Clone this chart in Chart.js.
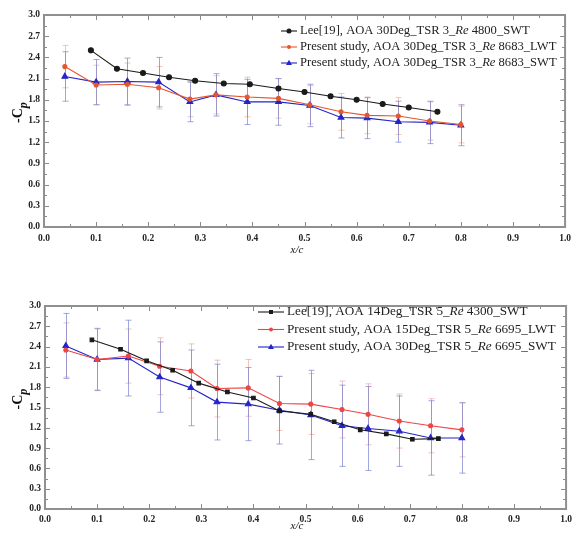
<!DOCTYPE html>
<html>
<head>
<meta charset="utf-8">
<script src="https://cdn.jsdelivr.net/npm/chart.js@4.4.1/dist/chart.umd.min.js"></script>
<style>
  body { margin: 0; background: #fff; }
  #wrap { position: relative; width: 577px; height: 539px; }
  #c1 { position: absolute; left: 0; top: 0; }
  #c2 { position: absolute; left: 0; top: 270px; }
</style>
</head>
<body>
<div id="wrap">
  <canvas id="c1" width="577" height="270"></canvas>
  <canvas id="c2" width="577" height="269"></canvas>
</div>
<script>
// ---- data, top panel (TSR 3) ----
const xLeeTop = [0.09, 0.14, 0.19, 0.24, 0.29, 0.345, 0.395, 0.45, 0.50, 0.55, 0.60, 0.65, 0.70, 0.755];
const yLeeTop = [2.50, 2.24, 2.18, 2.12, 2.07, 2.03, 2.02, 1.96, 1.91, 1.85, 1.80, 1.74, 1.69, 1.63];
const xPresent = [0.04, 0.10, 0.16, 0.22, 0.28, 0.33, 0.39, 0.45, 0.51, 0.57, 0.62, 0.68, 0.74, 0.80];
const yLwtTop = [2.27, 2.01, 2.02, 1.97, 1.81, 1.87, 1.84, 1.82, 1.73, 1.63, 1.58, 1.57, 1.50, 1.45];
const ySwtTop = [2.13, 2.05, 2.06, 2.05, 1.77, 1.87, 1.77, 1.77, 1.72, 1.55, 1.54, 1.49, 1.48, 1.44];
const errLwtTop = [0.30, 0.28, 0.30, 0.30, 0.25, 0.27, 0.28, 0.28, 0.27, 0.26, 0.26, 0.26, 0.27, 0.26];
const errSwtTop = [0.35, 0.32, 0.33, 0.35, 0.28, 0.30, 0.32, 0.33, 0.30, 0.29, 0.29, 0.29, 0.30, 0.29];

// ---- data, bottom panel (TSR 5) ----
const xLeeBot = [0.09, 0.145, 0.195, 0.245, 0.295, 0.35, 0.40, 0.45, 0.51, 0.555, 0.605, 0.655, 0.705, 0.755];
const yLeeBot = [2.50, 2.36, 2.19, 2.05, 1.86, 1.73, 1.64, 1.45, 1.40, 1.29, 1.17, 1.11, 1.03, 1.04];
const yLwtBot = [2.35, 2.21, 2.26, 2.11, 2.04, 1.78, 1.79, 1.56, 1.55, 1.47, 1.40, 1.30, 1.23, 1.17];
const ySwtBot = [2.41, 2.21, 2.23, 1.95, 1.79, 1.58, 1.55, 1.46, 1.39, 1.23, 1.19, 1.15, 1.05, 1.05];
const errLwtBot = [0.40, 0.45, 0.40, 0.42, 0.40, 0.42, 0.42, 0.40, 0.45, 0.42, 0.45, 0.40, 0.40, 0.40];
const errSwtBot = [0.48, 0.46, 0.56, 0.52, 0.56, 0.56, 0.54, 0.50, 0.66, 0.60, 0.62, 0.52, 0.55, 0.52];

const legendTop = [
  "Lee[19], AOA 30Deg_TSR 3_|Re| 4800_SWT",
  "Present study, AOA 30Deg_TSR 3_|Re| 8683_LWT",
  "Present study, AOA 30Deg_TSR 3_|Re| 8683_SWT"
];
const legendBot = [
  "Lee[19], AOA 14Deg_TSR 5_|Re| 4300_SWT",
  "Present study, AOA 15Deg_TSR 5_|Re| 6695_LWT",
  "Present study, AOA 30Deg_TSR 5_|Re| 6695_SWT"
];

const FONT = "'Liberation Serif', 'DejaVu Serif', serif";

function pts(xs, ys) {
  return xs.map((x, i) => ({ x: x, y: ys[i] }));
}

// draws frame with inward ticks, error bars, axis titles and legend
const decor = {
  id: 'decor',
  beforeDatasetsDraw(chart, args, opts) {
    const ctx = chart.ctx;
    const ys = chart.scales.y, xs = chart.scales.x;
    ctx.save();
    chart.data.datasets.forEach(ds => {
      if (!ds.errors) return;
      ctx.strokeStyle = ds.errColor;
      ctx.lineWidth = 1;
      ds.data.forEach((p, i) => {
        const px = Math.round(xs.getPixelForValue(p.x)) + 0.5;
        const top = ys.getPixelForValue(p.y + ds.errors[i]);
        const bot = ys.getPixelForValue(p.y - ds.errors[i]);
        ctx.beginPath();
        ctx.moveTo(px, top); ctx.lineTo(px, bot);
        ctx.moveTo(px - 3, top); ctx.lineTo(px + 3, top);
        ctx.moveTo(px - 3, bot); ctx.lineTo(px + 3, bot);
        ctx.stroke();
      });
    });
    ctx.restore();
  },
  afterDraw(chart, args, opts) {
    const ctx = chart.ctx;
    const a = chart.chartArea;
    const xs = chart.scales.x, ys = chart.scales.y;
    ctx.save();
    ctx.strokeStyle = '#8a8a8a';
    ctx.lineWidth = 1;
    // minor + major ticks, inward, on all sides
    for (let v = 0; v <= 1.0001; v += 0.05) {
      const px = Math.round(xs.getPixelForValue(v)) + 0.5;
      const len = (Math.round(v * 20) % 2 === 0) ? 5 : 3;
      ctx.beginPath();
      ctx.moveTo(px, a.bottom); ctx.lineTo(px, a.bottom - len);
      ctx.moveTo(px, a.top); ctx.lineTo(px, a.top + len);
      ctx.stroke();
    }
    for (let v = 0; v <= 3.0001; v += 0.15) {
      const py = Math.round(ys.getPixelForValue(v)) + 0.5;
      const len = (Math.round(v / 0.15) % 2 === 0) ? 5 : 3;
      ctx.beginPath();
      ctx.moveTo(a.left, py); ctx.lineTo(a.left + len, py);
      ctx.moveTo(a.right, py); ctx.lineTo(a.right - len, py);
      ctx.stroke();
    }
    ctx.lineWidth = 2;
    ctx.strokeStyle = '#909090';
    ctx.strokeRect(a.left, a.top, a.right - a.left, a.bottom - a.top);

    // y title  -C_p
    ctx.fillStyle = '#111';
    ctx.translate(opts.yTitleX, (a.top + a.bottom) / 2 - 8);
    ctx.rotate(-Math.PI / 2);
    ctx.textAlign = 'left';
    ctx.textBaseline = 'alphabetic';
    ctx.font = "bold 14px " + FONT;
    ctx.fillText('-C', -10, 4);
    const w = ctx.measureText('-C').width;
    ctx.font = "italic bold 12px " + FONT;
    ctx.fillText('p', -10 + w, 9);
    ctx.setTransform(1, 0, 0, 1, 0, 0);

    // x title
    ctx.font = "italic 11px " + FONT;
    ctx.textAlign = 'center';
    ctx.fillText('x/c', opts.xTitleX, opts.xTitleY);

    // legend
    const lg = opts.legend;
    chart.data.datasets.forEach((ds, i) => {
      const y = lg.y + i * lg.dy;
      ctx.strokeStyle = ds.borderColor;
      ctx.lineWidth = 1.1;
      ctx.beginPath();
      ctx.moveTo(lg.x, y); ctx.lineTo(lg.x + lg.len, y);
      ctx.stroke();
      drawMarker(ctx, ds.pointStyle, lg.x + lg.len / 2, y, ds.pointRadius, ds.borderColor);
      let tx = lg.x + lg.len + 3;
      ctx.fillStyle = '#222';
      ctx.textAlign = 'left';
      ctx.textBaseline = 'middle';
      lg.labels[i].split('|').forEach((part, k) => {
        ctx.font = (k === 1 ? "italic " : "") + lg.size + "px " + FONT;
        ctx.fillText(part, tx, y);
        tx += ctx.measureText(part).width;
      });
    });
    ctx.restore();
  }
};

function drawMarker(ctx, style, x, y, r, color) {
  ctx.fillStyle = color;
  ctx.beginPath();
  if (style === 'triangle') {
    ctx.moveTo(x, y - r); ctx.lineTo(x + r * 0.9, y + r * 0.6); ctx.lineTo(x - r * 0.9, y + r * 0.6);
    ctx.closePath();
  } else if (style === 'rect') {
    ctx.rect(x - r * 0.8, y - r * 0.8, r * 1.6, r * 1.6);
  } else {
    ctx.arc(x, y, r, 0, Math.PI * 2);
  }
  ctx.fill();
}

function makeChart(id, leeX, leeY, lwtY, swtY, lwtErr, swtErr, cfg) {
  const datasets = [
    { data: pts(leeX, leeY), borderColor: '#1a1a1a', backgroundColor: '#1a1a1a',
      pointStyle: cfg.leeStyle, pointRadius: 2.5, borderWidth: 1.1 },
    { data: pts(xPresent, lwtY), borderColor: cfg.red, backgroundColor: cfg.red,
      pointStyle: 'circle', pointRadius: 2, borderWidth: 1.1,
      errors: lwtErr, errColor: cfg.redErr },
    { data: pts(xPresent, swtY), borderColor: '#2424c8', backgroundColor: '#2424c8',
      pointStyle: 'triangle', pointRadius: 3.3, borderWidth: 1.1,
      errors: swtErr, errColor: 'rgba(120,130,210,0.7)' }
  ];
  return new Chart(document.getElementById(id), {
    type: 'line',
    data: { datasets: datasets },
    options: {
      responsive: false,
      animation: false,
      layout: { padding: { top: cfg.top, right: cfg.right, left: 0, bottom: 0 } },
      plugins: {
        legend: { display: false },
        tooltip: { enabled: false },
        decor: cfg.decor
      },
      elements: { line: { tension: 0 } },
      scales: {
        x: {
          type: 'linear', min: 0, max: 1.0,
          afterFit: s => { s.height = cfg.xAxisH; },
          grid: { display: false, drawTicks: false },
          border: { display: false },
          ticks: {
            stepSize: 0.1, padding: cfg.xPad, color: '#222',
            font: { family: FONT, size: 9.5, weight: 'bold' },
            callback: v => v.toFixed(1)
          }
        },
        y: {
          min: 0, max: 3.0,
          afterFit: s => { s.width = cfg.yAxisW; },
          grid: { display: false, drawTicks: false },
          border: { display: false },
          ticks: {
            stepSize: 0.3, padding: 4, color: '#222',
            font: { family: FONT, size: 9.5, weight: 'bold' },
            callback: v => v.toFixed(1)
          }
        }
      }
    },
    plugins: [decor]
  });
}

makeChart('c1', xLeeTop, yLeeTop, yLwtTop, ySwtTop, errLwtTop, errSwtTop, {
  top: 15, right: 10, xAxisH: 43, yAxisW: 44, xPad: 6,
  leeStyle: 'circle', red: '#e4562e', redErr: 'rgba(235,150,120,0.55)',
  decor: {
    yTitleX: 18, xTitleX: 297, xTitleY: 253,
    legend: { x: 281, y: 31, dy: 16, len: 16, size: 12.6, labels: legendTop }
  }
});

makeChart('c2', xLeeBot, yLeeBot, yLwtBot, ySwtBot, errLwtBot, errSwtBot, {
  top: 36, right: 9, xAxisH: 30, yAxisW: 45, xPad: 5,
  leeStyle: 'rect', red: '#ee4444', redErr: 'rgba(240,140,140,0.55)',
  decor: {
    yTitleX: 18, xTitleX: 297, xTitleY: 259,
    legend: { x: 258, y: 42, dy: 17.5, len: 26, size: 13.2, labels: legendBot }
  }
});
</script>
</body>
</html>
